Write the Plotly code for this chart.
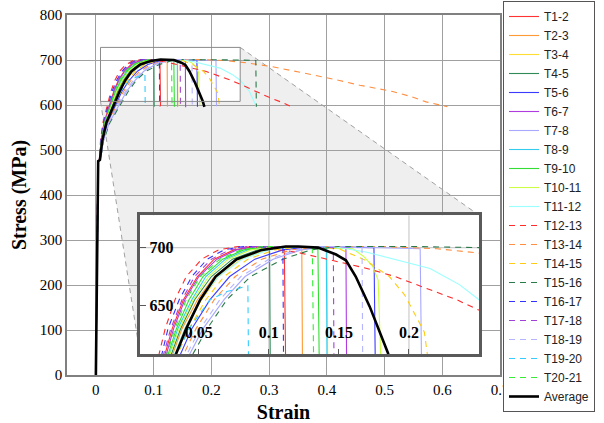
import plotly.graph_objects as go

# ---------------- data ----------------
RISE_LEVELS = [0, 475, 478, 520, 560, 600, 630, 655, 675, 690, 698, 701]  # MPa

NAMES = ["T1-2", "T2-3", "T3-4", "T4-5", "T5-6", "T6-7", "T7-8", "T8-9", "T9-10",
         "T10-11", "T11-12", "T12-13", "T13-14", "T14-15", "T15-16", "T16-17",
         "T17-18", "T18-19", "T19-20", "T20-21"]

# strain at each RISE_LEVELS value (truncated when a specimen failed earlier)
RISE_STRAIN = {
    "T1-2":   [0, .0035, .006, .009, .014, .024, .031, .039, .049, .061, .075, .090],
    "T2-3":   [0, .004, .007, .0105, .017, .029, .038, .049, .061, .077, .094, .112],
    "T3-4":   [0, .004, .007, .011, .018, .031, .040, .052, .064, .080, .098, .118],
    "T4-5":   [0, .004, .007, .0105, .017, .028, .037, .047, .059, .074, .092],
    "T5-6":   [0, .0045, .0075, .012, .020, .034, .045, .058, .072, .090, .110, .130],
    "T6-7":   [0, .0035, .006, .009, .015, .025, .032, .040, .050, .063, .077, .092],
    "T7-8":   [0, .0045, .008, .013, .023, .040, .053, .068, .083, .103, .123, .145],
    "T8-9":   [0, .004, .0065, .010, .016, .027, .035, .045, .055, .069, .085, .102],
    "T9-10":  [0, .004, .0065, .010, .016, .026, .034, .043, .053, .067, .082, .099],
    "T10-11": [0, .004, .0065, .010, .016, .027, .036, .046, .057, .071, .087, .105],
    "T11-12": [0, .004, .007, .011, .018, .030, .040, .051, .064, .081, .100, .125],
    "T12-13": [0, .0035, .006, .008, .012, .020, .026, .033, .041, .052, .064, .078],
    "T13-14": [0, .0045, .008, .012, .021, .036, .048, .061, .076, .095, .116, .140],
    "T14-15": [0, .004, .0075, .0115, .019, .032, .043, .055, .068, .085, .104, .125],
    "T15-16": [0, .0045, .008, .013, .024, .042, .056, .070, .087, .110, .130, .150],
    "T16-17": [0, .0035, .006, .0085, .013, .022, .028, .036, .045, .056, .068, .082],
    "T17-18": [0, .0035, .006, .009, .014, .023, .030, .038, .047, .059, .072, .086],
    "T18-19": [0, .0045, .008, .0125, .022, .038, .051, .065, .080, .100, .120, .142],
    "T19-20": [0, .004, .007, .011, .018, .031, .043, .058],
    "T20-21": [0, .0035, .0065, .0095, .015, .025, .033, .041, .051, .065, .080, .096],
}

# post-peak / failure part: strain and stress
TAIL_STRAIN = {
    "T1-2":   [.111, .112],
    "T2-3":   [.1235, .124],
    "T3-4":   [.1415, .142],
    "T4-5":   [.1005, .101],
    "T5-6":   [.175, .176],
    "T6-7":   [.155, .1555],
    "T7-8":   [.208, .209],
    "T8-9":   [.141, .1415],
    "T9-10":  [.135, .136],
    "T10-11": [.160, .168, .174, .178, .180],
    "T11-12": [.150, .170, .190, .215, .236, .250, .266, .278],
    "T12-13": [.095, .120, .145, .170, .190, .214, .234, .250, .270, .300, .320, .336],
    "T13-14": [.180, .220, .260, .306, .340, .376, .420, .457, .514, .545, .572, .609],
    "T14-15": [.150, .169, .186, .197, .211, .214],
    "T15-16": [.200, .250, .277, .278],
    "T16-17": [.110, .1105],
    "T17-18": [.146, .1465],
    "T18-19": [.1665, .167],
    "T19-20": [.070, .085, .0855],
    "T20-21": [.131, .132],
}
TAIL_STRESS = {
    "T1-2":   [700, 597],
    "T2-3":   [700, 596],
    "T3-4":   [699, 597],
    "T4-5":   [699, 596],
    "T5-6":   [700, 596],
    "T6-7":   [700, 595],
    "T7-8":   [699, 597],
    "T8-9":   [700, 596],
    "T9-10":  [700, 596],
    "T10-11": [699, 692, 684, 672, 600],
    "T11-12": [700, 696, 690, 682, 668, 655, 630, 597],
    "T12-13": [700, 696, 689, 682, 675, 664, 655, 646, 634, 617, 607, 598],
    "T13-14": [701, 699, 694, 685, 677, 667, 655, 644, 630, 619, 607, 596],
    "T14-15": [699, 689, 675, 659, 627, 600],
    "T15-16": [701, 700, 699, 596],
    "T16-17": [700, 596],
    "T17-18": [700, 596],
    "T18-19": [700, 596],
    "T19-20": [662, 667, 596],
    "T20-21": [700, 597],
}

AVG_STRAIN = [0, .004, .007, .011, .018, .031, .041, .051, .062, .077, .095, .112,
              .121, .135, .148, .155, .162, .172, .185, .188]
AVG_STRESS = RISE_LEVELS + [701, 700, 694, 689, 675, 649, 609, 596]

X_TICKS = [0, 0.1, 0.2, 0.3, 0.4, 0.5, 0.6, 0.7]
Y_TICKS = [0, 100, 200, 300, 400, 500, 600, 700, 800]
INSET_X_TICKS = [0.05, 0.1, 0.15, 0.2]
INSET_Y_TICKS = [650, 700]
INSET_X_GRID = [0.1, 0.2]
INSET_Y_GRID = [700]
ZOOM_X = [0.008, 0.25]   # zoomed window (strain)
ZOOM_Y = [608, 728]      # zoomed window (MPa)

# ---------------- styles ----------------
COLORS = {
    "T1-2": "#ff3333", "T2-3": "#ff9933", "T3-4": "#ffdd33", "T4-5": "#2e8b57",
    "T5-6": "#3b3bff", "T6-7": "#b03ce0", "T7-8": "#a8a8ff", "T8-9": "#33ccee",
    "T9-10": "#33dd33", "T10-11": "#ccff44", "T11-12": "#99ffff",
    "T12-13": "#ff2a2a", "T13-14": "#ff8f40", "T14-15": "#ffcc11", "T15-16": "#2a7a4a",
    "T16-17": "#3333ff", "T17-18": "#a040d8", "T18-19": "#b4b4ff", "T19-20": "#33ccff",
    "T20-21": "#33ee33",
}
DASHED = set(NAMES[11:])

SERIF = "Liberation Serif"
SANS = "Liberation Sans"

fig = go.Figure()

for axes_id, show in (("", True), ("2", False)):
    for n in NAMES:
        xs = RISE_STRAIN[n] + TAIL_STRAIN[n]
        ys = RISE_LEVELS[:len(RISE_STRAIN[n])] + TAIL_STRESS[n]
        fig.add_trace(go.Scatter(
            x=xs, y=ys, mode="lines", name=n, showlegend=show, legendgroup=n,
            xaxis="x" + axes_id, yaxis="y" + axes_id,
            line=dict(color=COLORS[n], width=1.1,
                      dash="6px,5px" if n in DASHED else "solid"),
            hoverinfo="skip"))
    fig.add_trace(go.Scatter(
        x=AVG_STRAIN, y=AVG_STRESS, mode="lines", name="Average", showlegend=show,
        legendgroup="Average", xaxis="x" + axes_id, yaxis="y" + axes_id,
        line=dict(color="black", width=2.6), hoverinfo="skip"))

# ---------------- layout geometry ----------------
ML, MR, MT, MB = 67, 104, 15, 48
W, H = 604, 423
XR = [-0.05, 0.7]
YR = [0, 800]
INSET_DOM_X = [0.1686, 0.9515]
INSET_DOM_Y = [0.058, 0.444]


def px_paper(x):
    return (x - XR[0]) / (XR[1] - XR[0])


def py_paper(y):
    return (y - YR[0]) / (YR[1] - YR[0])


rx0, rx1 = px_paper(ZOOM_X[0]), px_paper(ZOOM_X[1])
ry0, ry1 = py_paper(ZOOM_Y[0]), py_paper(ZOOM_Y[1])
ix0, ix1 = INSET_DOM_X
iy0, iy1 = INSET_DOM_Y

shapes = []
# shaded connector region (hull minus zoom rectangle)
path = (f"M{rx1},{ry1} L{ix1},{iy1} L{ix1},{iy0} L{ix0},{iy0} "
        f"L{rx0},{ry0} L{rx1},{ry0} Z")
shapes.append(dict(type="path", path=path, xref="paper", yref="paper",
                   fillcolor="#efefef", line=dict(width=0), layer="below"))
shapes.append(dict(type="line", xref="paper", yref="paper", x0=rx1, y0=ry1, x1=ix1, y1=iy1,
                   line=dict(color="#a0a0a0", width=1, dash="5px,4px"), layer="below"))
shapes.append(dict(type="line", xref="paper", yref="paper", x0=rx0, y0=ry0, x1=ix0, y1=iy0,
                   line=dict(color="#a0a0a0", width=1, dash="5px,4px"), layer="below"))
# zoom rectangle on main plot
shapes.append(dict(type="rect", xref="x", yref="y", x0=ZOOM_X[0], x1=ZOOM_X[1],
                   y0=ZOOM_Y[0], y1=ZOOM_Y[1], line=dict(color="#8a8a8a", width=1),
                   fillcolor="rgba(0,0,0,0)", layer="above"))
# inset grid lines
for gx in INSET_X_GRID:
    shapes.append(dict(type="line", xref="x2", yref="y2", x0=gx, x1=gx,
                       y0=ZOOM_Y[0], y1=ZOOM_Y[1], line=dict(color="#cccccc", width=1.2),
                       layer="below"))
for gy in INSET_Y_GRID:
    shapes.append(dict(type="line", xref="x2", yref="y2", x0=ZOOM_X[0], x1=ZOOM_X[1],
                       y0=gy, y1=gy, line=dict(color="#cccccc", width=1.2),
                       layer="below"))

fig.update_layout(
    width=W, height=H,
    margin=dict(l=ML, r=MR, t=MT, b=MB, pad=0, autoexpand=False),
    paper_bgcolor="white", plot_bgcolor="white",
    shapes=shapes,
    xaxis=dict(domain=[0, 1], range=XR, tickvals=X_TICKS, showgrid=True,
               gridcolor="#a0a0a0", gridwidth=1, zeroline=False,
               showline=True, linecolor="#808080", linewidth=1.5, mirror=True,
               ticks="", tickfont=dict(family=SERIF, size=15, color="black"),
               title=dict(text="Strain", font=dict(family=SERIF, size=20, color="black",
                                                   weight="bold"), standoff=8),
               automargin=False),
    yaxis=dict(domain=[0, 1], range=YR, tickvals=Y_TICKS, showgrid=True,
               gridcolor="#a0a0a0", gridwidth=1, zeroline=False,
               showline=True, linecolor="#808080", linewidth=1.5, mirror=True,
               ticks="", tickfont=dict(family=SERIF, size=15, color="black"),
               title=dict(text="Stress (MPa)", font=dict(family=SERIF, size=20, color="black",
                                                         weight="bold"), standoff=8),
               automargin=False),
    xaxis2=dict(domain=INSET_DOM_X, anchor="y2", range=ZOOM_X, tickvals=INSET_X_TICKS,
                ticktext=["0.05", "0.1", "0.15", "0.2"],
                showgrid=False, zeroline=False, showline=True, mirror=True,
                linecolor="#5a5a5a", linewidth=2.5, ticks="inside", ticklen=5,
                tickcolor="#5a5a5a", ticklabelposition="inside", ticklabelstandoff=8,
                tickfont=dict(family=SERIF, size=16, color="black", weight="bold"),
                automargin=False),
    yaxis2=dict(domain=INSET_DOM_Y, anchor="x2", range=ZOOM_Y, tickvals=INSET_Y_TICKS,
                showgrid=False, zeroline=False, showline=True, mirror=True,
                linecolor="#5a5a5a", linewidth=2.5, ticks="inside", ticklen=6,
                tickcolor="#5a5a5a", ticklabelposition="inside", ticklabelstandoff=4,
                tickfont=dict(family=SERIF, size=16, color="black", weight="bold"),
                automargin=False),
    legend=dict(x=(503 - ML) / (W - ML - MR), xanchor="left",
                yref="container", y=1 - 1 / H, yanchor="top",
                bordercolor="#555555", borderwidth=1, bgcolor="white",
                font=dict(family=SANS, size=12, color="#222222"),
                itemwidth=30, tracegroupgap=0),
    showlegend=True,
)
try:
    fig.update_layout(legend_maxheight=H)
except (ValueError, AttributeError):
    pass

fig.write_html("out.html")
